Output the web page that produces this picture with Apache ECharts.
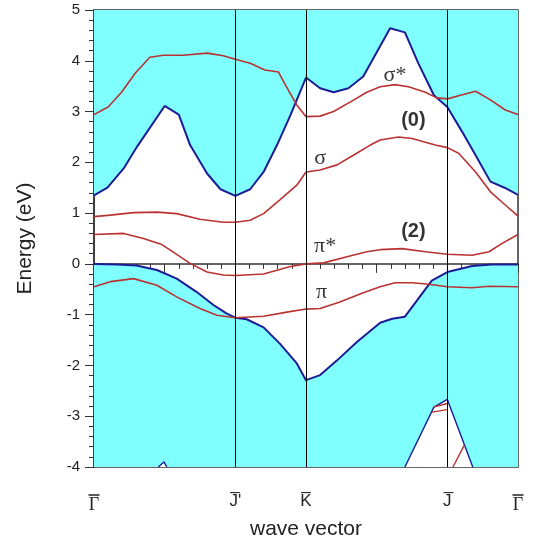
<!DOCTYPE html>
<html>
<head>
<meta charset="utf-8">
<script src="https://cdn.jsdelivr.net/npm/echarts@6/dist/echarts.min.js"></script>
<style>
  html, body { margin: 0; padding: 0; background: #fff; }
  #band_chart { width: 536px; height: 551px; }
</style>
</head>
<body>
<div id="band_chart"></div>
<script>
// symmetry points along the path
var symPos = [0, 2, 3, 5, 6];
var symNames = ['Γ', 'J\'', 'K', 'J', 'Γ'];

// projected bulk bands: upper and lower edges of the gap
var upperEdge = [[0,1.35],[0.19,1.50],[0.42,1.88],[0.61,2.31],[1.0,3.11],[1.2,2.94],[1.36,2.34],[1.6,1.78],[1.79,1.47],[2.0,1.34],
  [2.21,1.47],[2.4,1.81],[2.59,2.34],[2.78,2.93],[3.0,3.67],[3.2,3.46],[3.39,3.38],[3.6,3.46],[3.81,3.69],[4.19,4.64],
  [4.4,4.56],[4.59,3.95],[4.81,3.32],[5.0,3.09],[5.21,2.60],[5.4,2.14],[5.61,1.62],[5.81,1.50],[6.0,1.36]];
var lowerEdge = [[0,0.0],[0.32,-0.01],[0.6,-0.03],[0.89,-0.12],[1.17,-0.29],[1.45,-0.55],[1.69,-0.81],[1.88,-0.98],[2.0,-1.06],
  [2.16,-1.09],[2.4,-1.25],[2.63,-1.57],[2.87,-1.96],[3.0,-2.29],[3.2,-2.19],[3.44,-1.90],[3.72,-1.54],[4.05,-1.16],
  [4.22,-1.08],[4.4,-1.04],[4.78,-0.33],[5.0,-0.16],[5.35,-0.04],[5.63,-0.01],[6.0,-0.01]];
var pocketJ = [[4.40,-4],[4.81,-2.82],[5.0,-2.67],[5.36,-4]];
var pocketSmall = [[0.91,-4],[0.99,-3.9],[1.03,-4]];

// surface bands
var bandSigmaStar = [[0,2.94],[0.2,3.09],[0.39,3.38],[0.58,3.75],[0.79,4.07],[0.98,4.11],[1.26,4.11],[1.6,4.15],[1.83,4.10],[2.0,4.03],
  [2.21,3.95],[2.42,3.82],[2.61,3.78],[2.71,3.52],[2.87,3.13],[3.0,2.90],[3.2,2.91],[3.39,3.0],[3.63,3.19],[3.86,3.38],
  [4.05,3.49],[4.26,3.53],[4.45,3.49],[4.69,3.38],[4.85,3.27],[5.0,3.25],[5.16,3.31],[5.4,3.40],[5.61,3.23],[5.82,3.03],[6,2.94]];
var bandSigma = [[0,0.93],[0.23,0.96],[0.56,1.01],[0.89,1.02],[1.17,0.99],[1.5,0.88],[1.83,0.82],[2.0,0.82],[2.21,0.86],[2.4,0.99],
  [2.63,1.26],[2.87,1.55],[3.0,1.81],[3.2,1.85],[3.44,1.95],[3.67,2.14],[3.91,2.34],[4.05,2.44],[4.31,2.50],[4.5,2.47],
  [4.83,2.34],[5.0,2.29],[5.16,2.18],[5.4,1.81],[5.61,1.42],[5.82,1.16],[6,0.94]];
var bandPiStar = [[0,0.58],[0.42,0.60],[0.7,0.50],[0.96,0.38],[1.08,0.27],[1.36,0.01],[1.6,-0.16],[1.83,-0.22],[2.0,-0.23],[2.4,-0.20],
  [2.78,-0.05],[3.0,0.0],[3.25,0.02],[3.58,0.14],[3.86,0.24],[4.05,0.28],[4.36,0.30],[4.69,0.24],[5.0,0.19],[5.35,0.17],
  [5.59,0.24],[5.77,0.40],[6,0.58]];
var bandPi = [[0,-0.45],[0.23,-0.35],[0.56,-0.29],[0.89,-0.42],[1.17,-0.65],[1.5,-0.88],[1.74,-1.01],[2.0,-1.06],[2.4,-1.03],
  [2.73,-0.95],[3.0,-0.89],[3.2,-0.88],[3.48,-0.75],[3.81,-0.57],[4.05,-0.45],[4.26,-0.37],[4.5,-0.37],[4.74,-0.40],
  [5.0,-0.45],[5.35,-0.47],[5.59,-0.44],[6,-0.45]];
var pocketBands = [
  [[4.80,-2.82],[5.0,-2.75]],
  [[4.78,-2.92],[5.0,-2.87]],
  [[5.08,-4],[5.24,-3.57]]
];

// labels inside the plot: [x, y, text]
var notes = [[4.26,3.72,'σ*'],[4.52,2.83,'(0)'],[3.2,2.08,'σ'],[4.52,0.64,'(2)'],[3.27,0.35,'π*'],[3.22,-0.56,'π']];

var CYAN = '#80ffff';
var BLUE = '#1c1c96';
var RED = '#b83232';
var SANS = 'Liberation Sans, Arial, sans-serif';
var SERIF = 'Liberation Serif, Times New Roman, serif';

function edge(data, origin, fill, width) {
    return {
        type: 'line',
        data: data,
        symbol: 'none',
        silent: true,
        lineStyle: { color: BLUE, width: width || 2 },
        areaStyle: { color: fill, opacity: 1, origin: origin }
    };
}

function band(data, width) {
    return {
        type: 'line',
        data: data,
        symbol: 'none',
        silent: true,
        z: 3,
        lineStyle: { color: RED, width: width || 1.6 }
    };
}

var series = [
    edge(upperEdge, 'end', CYAN),
    edge(lowerEdge, 'start', CYAN),
    edge(pocketJ, 'start', '#fff', 1.4),
    edge(pocketSmall, 'start', '#fff', 1.4),
    band(bandSigmaStar),
    band(bandSigma),
    band(bandPiStar),
    band(bandPi)
];
pocketBands.forEach(function (d) { series.push(band(d, 1.4)); });

// vertical lines at J', K, J
series.push({
    type: 'line',
    data: [],
    z: 4,
    markLine: {
        silent: true,
        symbol: 'none',
        label: { show: false },
        lineStyle: { color: '#000', width: 1, type: 'solid' },
        data: [{ xAxis: symPos[1] }, { xAxis: symPos[2] }, { xAxis: symPos[3] }]
    }
});

// annotation texts
series.push({
    type: 'scatter',
    z: 5,
    silent: true,
    symbolSize: 0,
    data: notes.map(function (n) { return { value: [n[0], n[1]], name: n[2] }; }),
    label: {
        show: true,
        position: 'inside',
        color: '#000',
        formatter: function (p) {
            return p.name.charAt(0) === '(' ? '{b|' + p.name + '}' : '{g|' + p.name + '}';
        },
        rich: {
            b: { fontFamily: SANS, fontWeight: 'bold', fontSize: 20, color: '#000' },
            g: { fontFamily: SERIF, fontSize: 22, color: '#000' }
        }
    }
});

var myChart = echarts.init(document.getElementById('band_chart'));
var option = {
    backgroundColor: '#fff',
    animation: false,
    grid: {
        left: 94, top: 10, right: 18, bottom: 84,
        show: true, backgroundColor: '#fff', borderColor: '#333', borderWidth: 1.5
    },
    xAxis: {
        type: 'value',
        min: 0, max: 6, interval: 1,
        name: 'wave vector',
        nameLocation: 'middle',
        nameGap: 48,
        nameTextStyle: { fontFamily: SANS, fontSize: 21, color: '#222' },
        axisLine: { lineStyle: { color: '#333', width: 1.5 } },
        axisTick: { show: true, length: 9, lineStyle: { color: '#333' } },
        minorTick: { show: true, splitNumber: 5, length: 5, lineStyle: { color: '#333' } },
        splitLine: { show: false },
        axisLabel: {
            margin: 26,
            formatter: function (v) {
                var i = symPos.indexOf(v);
                if (i < 0) return '';
                var s = symNames[i];
                // serif gamma gets its bar drawn as a small box above it
                if (s === 'Γ') return '{bar| }\n{g|Γ}';
                return '{s|' + s.charAt(0) + '\u0305' + s.slice(1) + '}';
            },
            rich: {
                bar: { width: 11, height: 1.5, lineHeight: 4, backgroundColor: '#222' },
                g: { fontFamily: SERIF, fontSize: 18, lineHeight: 16, color: '#222' },
                s: { fontFamily: SANS, fontSize: 17, color: '#222' }
            }
        }
    },
    yAxis: {
        type: 'value',
        min: -4, max: 5, interval: 1,
        name: 'Energy (eV)',
        nameLocation: 'middle',
        nameGap: 58,
        nameTextStyle: { fontFamily: SANS, fontSize: 21, color: '#222' },
        axisLine: { show: true, lineStyle: { color: '#333', width: 1.5 } },
        axisTick: { show: true, length: 9, lineStyle: { color: '#333' } },
        minorTick: { show: true, splitNumber: 5, length: 5, lineStyle: { color: '#333' } },
        splitLine: { show: false },
        axisLabel: { margin: 14, fontFamily: SANS, fontSize: 15, color: '#222' }
    },
    series: series
};

myChart.setOption(option);
</script>
</body>
</html>
